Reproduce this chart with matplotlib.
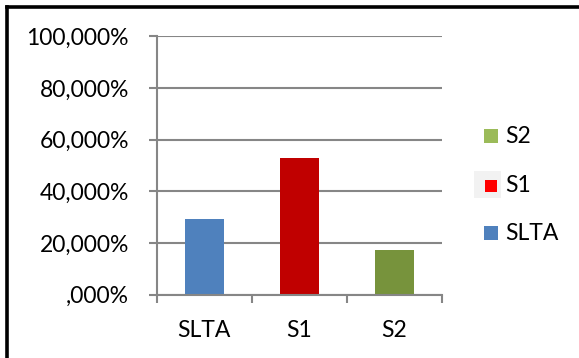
import matplotlib

matplotlib.use("Agg")

import matplotlib.pyplot as plt
from matplotlib.patches import Rectangle
from matplotlib.lines import Line2D

categories = ["SLTA", "S1", "S2"]
values = [29.3, 52.9, 17.3]
bar_colors = ["#4f81bd", "#c00000", "#77933c"]
legend_colors = ["#4f81bd", "#ff0000", "#9bbb59"]
y_ticks = [0, 20, 40, 60, 80, 100]
y_tick_labels = [",000%", "20,000%", "40,000%", "60,000%", "80,000%", "100,000%"]

W, H = 579, 358
FS = 16.5
plt.rcParams["font.family"] = ["Lato", "DejaVu Sans"]

fig = plt.figure(figsize=(W / 100, H / 100), dpi=100)
ax = fig.add_axes([156.7 / W, 1 - 294.7 / H, 285 / W, 258.5 / H])

grid_c = "#868686"
x = range(len(categories))
ax.bar(x, values, width=0.41, color=bar_colors, zorder=3)

ax.set_xlim(-0.5, len(categories) - 0.5)
ax.set_ylim(0, 100)
ax.set_yticks(y_ticks)
ax.set_yticklabels(y_tick_labels, fontsize=FS)
ax.set_xticks(list(x))
ax.set_xticklabels(categories, fontsize=FS)
ax.set_xticks([i - 0.5 for i in range(len(categories) + 1)], minor=True)

ax.tick_params(axis="y", length=6, width=1.5, color=grid_c, pad=14)
ax.tick_params(axis="x", which="major", length=0, pad=18)
ax.tick_params(axis="x", which="minor", length=6, width=1.5, color=grid_c)
ax.grid(axis="y", color=grid_c, linewidth=1.5, zorder=0)
for side in ["top", "right"]:
    ax.spines[side].set_visible(False)
for side in ["left", "bottom"]:
    ax.spines[side].set_color(grid_c)
    ax.spines[side].set_linewidth(1.5)
    ax.spines[side].set_zorder(4)

# legend, drawn by hand like the Excel one (reversed order)
ys = [233, 186, 136]
for lab, col, yc in zip(categories, legend_colors, ys):
    if lab == "S1":
        fig.add_artist(Rectangle((474 / W, 1 - 197.7 / H), 26.7 / W, 26.7 / H,
                                 transform=fig.transFigure, color="#f2f2f2", lw=0))
        s = 12
    else:
        s = 14
    cx = 491
    fig.add_artist(Rectangle(((cx - s / 2) / W, 1 - (yc + s / 2) / H), s / W, s / H,
                             transform=fig.transFigure, color=col, lw=0))
    fig.text(505 / W, 1 - yc / H, lab, fontsize=FS, va="center", ha="left")

# outer frame (only top and left edges fall inside the image)
fig.add_artist(Line2D([7 / W, 7 / W], [0, 1 - 7 / H], transform=fig.transFigure,
                      color="black", linewidth=2.6, solid_capstyle="projecting"))
fig.add_artist(Line2D([7 / W, 1], [1 - 7 / H, 1 - 7 / H], transform=fig.transFigure,
                      color="black", linewidth=2.6, solid_capstyle="projecting"))

fig.savefig("out.png", dpi=100)
plt.close(fig)
